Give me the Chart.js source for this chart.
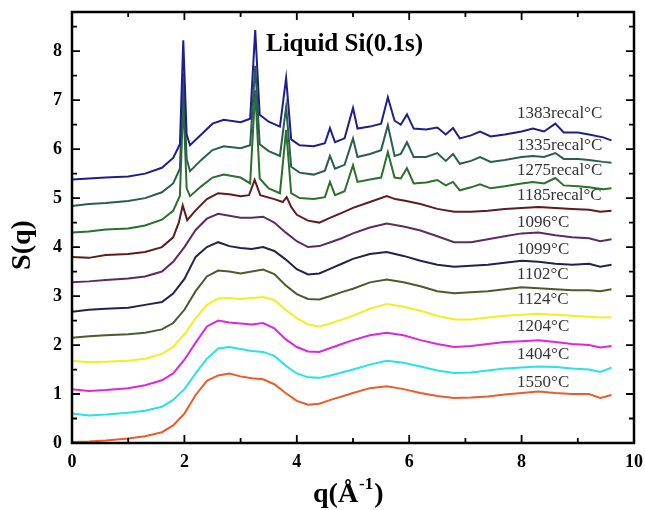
<!DOCTYPE html>
<html lang="en">
<head>
  <meta charset="UTF-8">
  <title>Liquid Si S(q)</title>
  <script src="https://cdn.jsdelivr.net/npm/chart.js"></script>
  <style>
    body { margin: 0; background: #fff; }
    canvas { display: block; }
  </style>
</head>
<body>
  <canvas id="sqChart" width="645" height="510"></canvas>

  <script>
    // q grids (Å^-1)
    const qLiquid = [0, 0.3, 0.6, 1.0, 1.3, 1.6, 1.8, 2.0, 2.2, 2.4, 2.6, 2.8, 3.0, 3.2, 3.4, 3.6, 3.8, 4.0, 4.2, 4.4,
                     4.6, 4.8, 5.0, 5.3, 5.6, 5.9, 6.2, 6.5, 6.8, 7.1, 7.4, 7.7, 8.0, 8.3, 8.6, 8.9, 9.2, 9.4, 9.6];
    const qBrown = [0, 0.3, 0.6, 1.0, 1.3, 1.6, 1.8, 1.9, 1.97, 2.05, 2.2, 2.4, 2.6, 2.8, 3.0, 3.15, 3.25, 3.35, 3.6, 3.75,
                    3.82, 3.9, 4.0, 4.2, 4.4, 4.6, 4.8, 5.0, 5.3, 5.6, 5.75, 5.95, 6.2, 6.5, 6.8, 7.1, 7.4, 7.7, 8.0, 8.3,
                    8.6, 8.9, 9.2, 9.4, 9.6];
    const qCryst = [0, 0.3, 0.6, 1.0, 1.3, 1.6, 1.8, 1.92, 1.98, 2.04, 2.1, 2.3, 2.5, 2.7, 3.0, 3.17, 3.26, 3.34, 3.5, 3.7,
                    3.81, 3.9, 4.05, 4.3, 4.5, 4.59, 4.68, 4.85, 5.0, 5.08, 5.3, 5.5, 5.62, 5.74, 5.85, 5.96, 6.08, 6.3, 6.5, 6.65,
                    6.78, 6.9, 7.1, 7.26, 7.45, 7.7, 8.0, 8.2, 8.4, 8.6, 8.75, 9.0, 9.2, 9.45, 9.6];

    // S(q) values (curves are offset vertically)
    const s1550 = [0.02, 0.03, 0.05, 0.09, 0.14, 0.22, 0.36, 0.6, 0.98, 1.27, 1.38, 1.42, 1.36, 1.32, 1.3, 1.2, 1.02, 0.86, 0.78, 0.8,
                   0.88, 0.95, 1.02, 1.12, 1.16, 1.1, 1.02, 0.96, 0.92, 0.93, 0.95, 0.99, 1.02, 1.05, 1.02, 1.0, 1.0, 0.92, 0.98];
    const s1404 = [0.6, 0.56, 0.58, 0.62, 0.66, 0.74, 0.88, 1.1, 1.42, 1.72, 1.93, 1.96, 1.92, 1.88, 1.86, 1.78, 1.58, 1.42, 1.34, 1.33,
                   1.38, 1.44, 1.5, 1.6, 1.68, 1.64, 1.56, 1.48, 1.43, 1.44, 1.48, 1.52, 1.54, 1.56, 1.55, 1.52, 1.5, 1.45, 1.54];
    const s1204 = [1.1, 1.06, 1.08, 1.12, 1.18, 1.28, 1.42, 1.7, 2.05, 2.38, 2.5, 2.46, 2.44, 2.42, 2.45, 2.34, 2.12, 1.96, 1.87, 1.86,
                   1.94, 2.02, 2.1, 2.2, 2.25, 2.2, 2.1, 2.02, 1.96, 1.98, 2.02, 2.06, 2.08, 2.1, 2.06, 2.02, 2.0, 1.95, 1.98];
    const s1124 = [1.68, 1.65, 1.66, 1.68, 1.72, 1.82, 1.96, 2.22, 2.55, 2.82, 2.95, 2.96, 2.94, 2.96, 2.98, 2.92, 2.72, 2.55, 2.42, 2.38,
                   2.44, 2.52, 2.6, 2.74, 2.84, 2.78, 2.7, 2.6, 2.52, 2.52, 2.56, 2.6, 2.62, 2.64, 2.62, 2.6, 2.58, 2.56, 2.57];
    const s1102 = [2.15, 2.18, 2.2, 2.22, 2.25, 2.32, 2.45, 2.72, 3.1, 3.4, 3.52, 3.5, 3.46, 3.5, 3.54, 3.45, 3.22, 3.04, 2.94, 2.93,
                   3.0, 3.08, 3.15, 3.28, 3.34, 3.28, 3.2, 3.1, 3.06, 3.08, 3.1, 3.14, 3.18, 3.16, 3.14, 3.12, 3.12, 3.1, 3.14];
    const s1099 = [2.68, 2.72, 2.74, 2.76, 2.82, 2.88, 3.05, 3.35, 3.8, 4.0, 4.1, 4.02, 3.98, 3.96, 4.0, 3.92, 3.75, 3.55, 3.44, 3.46,
                   3.56, 3.66, 3.76, 3.86, 3.9, 3.82, 3.72, 3.64, 3.6, 3.62, 3.64, 3.68, 3.72, 3.7, 3.66, 3.64, 3.66, 3.6, 3.64];
    const s1096 = [3.28, 3.3, 3.33, 3.36, 3.4, 3.5, 3.7, 4.0, 4.35, 4.58, 4.68, 4.64, 4.6, 4.6, 4.62, 4.5, 4.3, 4.12, 4.0, 4.02,
                   4.1, 4.18, 4.28, 4.4, 4.48, 4.42, 4.34, 4.22, 4.1, 4.1, 4.16, 4.22, 4.28, 4.3, 4.24, 4.2, 4.18, 4.12, 4.16];
    const s1185 = [3.8, 3.78, 3.84, 3.86, 3.9, 4.0, 4.2, 4.5, 4.85, 4.55, 4.75, 4.98, 5.1, 5.08, 5.04, 5.06, 5.37, 5.06, 4.98, 4.92,
                   5.02, 4.82, 4.66, 4.54, 4.5, 4.6, 4.7, 4.8, 4.92, 5.04, 4.98, 4.94, 4.88, 4.78, 4.72, 4.72, 4.74, 4.78, 4.8, 4.82,
                   4.8, 4.78, 4.76, 4.72, 4.74];
    const s1275 = [4.3, 4.32, 4.36, 4.38, 4.44, 4.56, 4.74, 5.05, 7.0, 5.2, 5.04, 5.24, 5.42, 5.48, 5.42, 5.3, 7.2, 5.4, 5.2, 5.1,
                   6.39, 5.1, 5.0, 4.98, 5.02, 5.33, 5.06, 5.14, 5.67, 5.33, 5.38, 5.42, 5.94, 5.42, 5.4, 5.61, 5.3, 5.32, 5.37, 5.26,
                   5.33, 5.16, 5.22, 5.28, 5.2, 5.24, 5.3, 5.33, 5.3, 5.41, 5.26, 5.24, 5.22, 5.18, 5.2];
    const s1335 = [4.84, 4.88, 4.9, 4.94, 5.0, 5.12, 5.3, 5.6, 7.55, 5.8, 5.55, 5.78, 5.98, 6.06, 6.02, 6.08, 7.7, 6.1, 5.96, 5.86,
                   6.86, 5.64, 5.52, 5.48, 5.56, 5.86, 5.6, 5.68, 6.22, 5.84, 5.9, 5.98, 6.49, 5.86, 5.9, 6.14, 5.84, 5.84, 5.92, 5.76,
                   5.9, 5.7, 5.76, 5.84, 5.74, 5.78, 5.84, 5.86, 5.84, 5.92, 5.8, 5.8, 5.78, 5.74, 5.72];
    const s1383 = [5.38, 5.4, 5.42, 5.44, 5.5, 5.62, 5.82, 6.1, 8.22, 6.3, 6.08, 6.3, 6.52, 6.6, 6.55, 6.62, 8.43, 6.7, 6.56, 6.46,
                   7.45, 6.2, 6.08, 6.06, 6.12, 6.43, 6.14, 6.22, 6.84, 6.42, 6.46, 6.52, 7.06, 6.58, 6.5, 6.71, 6.42, 6.4, 6.44, 6.3,
                   6.43, 6.22, 6.28, 6.36, 6.26, 6.3, 6.36, 6.42, 6.36, 6.52, 6.34, 6.34, 6.3, 6.24, 6.18];

    // curve labels, top to bottom
    const curveLabels = ["1383recal°C", "1335recal°C", "1275recal°C", "1185recal°C", "1096°C", "1099°C",
                         "1102°C", "1124°C", "1204°C", "1404°C", "1550°C"];
    // where each label sits (q, S)
    const labelQ = 7.92;
    const labelS = [6.73, 6.08, 5.57, 5.06, 4.51, 3.94, 3.43, 2.92, 2.37, 1.8, 1.24];

    const xTicks = [0, 2, 4, 6, 8, 10];
    const yTicks = [0, 1, 2, 3, 4, 5, 6, 7, 8];

    const serif = "'Liberation Serif', 'DejaVu Serif', serif";

    function toPoints(qs, ss) {
      return qs.map((q, i) => ({ x: q, y: ss[i] }));
    }

    const series = [
      { q: qCryst, s: s1383, color: "#1e1e8e" },
      { q: qCryst, s: s1335, color: "#2a5c52" },
      { q: qCryst, s: s1275, color: "#2c6e2c" },
      { q: qBrown, s: s1185, color: "#5e1c1c" },
      { q: qLiquid, s: s1096, color: "#5c2c60" },
      { q: qLiquid, s: s1099, color: "#22224e" },
      { q: qLiquid, s: s1102, color: "#4c5a2c" },
      { q: qLiquid, s: s1124, color: "#f2ee22" },
      { q: qLiquid, s: s1204, color: "#e024e0" },
      { q: qLiquid, s: s1404, color: "#24e4e4" },
      { q: qLiquid, s: s1550, color: "#f05a2a" }
    ];

    // frame, inward ticks, title, axis titles and curve labels
    const decorPlugin = {
      id: "decor",
      afterDraw(chart) {
        const ctx = chart.ctx;
        const area = chart.chartArea;
        const xs = chart.scales.x, ys = chart.scales.y;
        ctx.save();
        ctx.strokeStyle = "#000";
        ctx.lineWidth = 1.8;
        ctx.beginPath();
        for (let v = 0; v <= 10; v += 1) {
          const px = xs.getPixelForValue(v);
          const len = v % 2 === 0 ? 8 : 5;
          ctx.moveTo(px, area.bottom); ctx.lineTo(px, area.bottom - len);
          ctx.moveTo(px, area.top); ctx.lineTo(px, area.top + len);
        }
        for (let v = 0; v <= 8.5; v += 0.5) {
          const py = ys.getPixelForValue(v);
          const len = v % 1 === 0 ? 8 : 5;
          ctx.moveTo(area.left, py); ctx.lineTo(area.left + len, py);
          ctx.moveTo(area.right, py); ctx.lineTo(area.right - len, py);
        }
        ctx.stroke();
        ctx.lineWidth = 2.5;
        ctx.strokeRect(area.left, area.top, area.right - area.left, area.bottom - area.top);

        // curve labels
        ctx.fillStyle = "#333";
        ctx.font = "17px " + serif;
        ctx.textBaseline = "middle";
        ctx.textAlign = "left";
        curveLabels.forEach((t, i) => {
          ctx.fillText(t, xs.getPixelForValue(labelQ), ys.getPixelForValue(labelS[i]));
        });

        // title inside the plot
        ctx.fillStyle = "#000";
        ctx.font = "bold 25px " + serif;
        ctx.fillText("Liquid Si(0.1s)", 266, 45);

        // x axis title q(Å^-1)
        ctx.font = "bold 28px " + serif;
        ctx.textBaseline = "alphabetic";
        let x = 313;
        const by = 502;
        ctx.fillText("q(Å", x, by);
        x += ctx.measureText("q(Å").width;
        ctx.font = "bold 17px " + serif;
        ctx.fillText("-1", x + 1, by - 13);
        x += ctx.measureText("-1").width + 2;
        ctx.font = "bold 28px " + serif;
        ctx.fillText(")", x, by);

        // y axis title
        ctx.translate(30, 245);
        ctx.rotate(-Math.PI / 2);
        ctx.textAlign = "center";
        ctx.fillText("S(q)", 0, 0);
        ctx.restore();
      }
    };

    const ctx = document.getElementById("sqChart").getContext("2d");
    new Chart(ctx, {
      type: "line",
      data: {
        datasets: series.map((d, i) => ({
          label: curveLabels[i],
          data: toPoints(d.q, d.s),
          borderColor: d.color,
          borderWidth: 2,
          pointRadius: 0,
          tension: 0,
          fill: false
        }))
      },
      options: {
        responsive: false,
        animation: false,
        devicePixelRatio: 1,
        layout: { padding: { left: 0, top: 12, right: 11, bottom: 0 } },
        plugins: { legend: { display: false }, tooltip: { enabled: false } },
        scales: {
          x: {
            type: "linear",
            min: 0, max: 10,
            grid: { display: false, drawTicks: false },
            border: { display: false },
            afterBuildTicks: s => { s.ticks = xTicks.map(v => ({ value: v })); },
            afterFit: s => { s.height = 67; s.paddingLeft = 0; s.paddingRight = 0; },
            ticks: {
              padding: 9, maxRotation: 0, color: "#000",
              font: { family: serif, size: 18, weight: "bold" }
            }
          },
          y: {
            type: "linear",
            min: 0, max: 8.8,
            grid: { display: false, drawTicks: false },
            border: { display: false },
            afterBuildTicks: s => { s.ticks = yTicks.map(v => ({ value: v })); },
            afterFit: s => { s.width = 72; s.paddingTop = 0; s.paddingBottom = 0; },
            ticks: {
              padding: 10, color: "#000",
              font: { family: serif, size: 18, weight: "bold" }
            }
          }
        }
      },
      plugins: [decorPlugin]
    });
  </script>
</body>
</html>
